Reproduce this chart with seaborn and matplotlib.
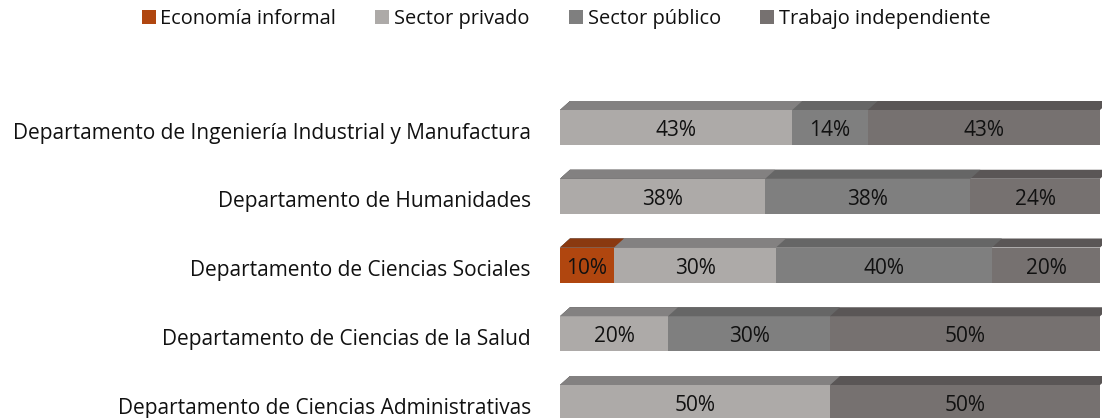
import matplotlib
matplotlib.use("Agg")
import matplotlib.pyplot as plt
import matplotlib.transforms as mtransforms
from matplotlib.patches import Polygon, Patch
import pandas as pd
import seaborn as sns

# Datos del gráfico (porcentajes por departamento)
departamentos = [
    "Departamento de Ingeniería Industrial y Manufactura",
    "Departamento de Humanidades",
    "Departamento de Ciencias Sociales",
    "Departamento de Ciencias de la Salud",
    "Departamento de Ciencias Administrativas",
]
series = ["Economía informal", "Sector privado", "Sector público", "Trabajo independiente"]
economia_informal = [0, 0, 10, 0, 0]
sector_privado = [43, 38, 30, 20, 50]
sector_publico = [14, 38, 40, 30, 0]
trabajo_independiente = [43, 24, 20, 50, 50]

colores_frente = ["#B0460F", "#ADAAA8", "#7F7F7F", "#767170"]
colores_tope = ["#8A3910", "#838181", "#666666", "#5A5656"]

df = pd.DataFrame({
    "dept": departamentos,
    series[0]: economia_informal,
    series[1]: sector_privado,
    series[2]: sector_publico,
    series[3]: trabajo_independiente,
})
acum = df[series].cumsum(axis=1)

sns.set_theme(style="white")
plt.rcParams["font.family"] = ["Open Sans", "DejaVu Sans"]

fig = plt.figure(figsize=(11.02, 4.18), dpi=100)
ax = fig.add_axes([560 / 1102, 0, 540 / 1102, 1])

DX = 10 / 540 * 100   # profundidad horizontal (unidades de %)
DY = 9 / 68.75        # profundidad vertical (unidades de categoría)

# barras apiladas: de la suma mayor a la menor
for i in range(len(series) - 1, -1, -1):
    tmp = pd.DataFrame({"dept": departamentos, "val": acum[series[i]]})
    n_before = len(ax.patches)
    sns.barplot(data=tmp, x="val", y="dept", color=colores_frente[i], saturation=1,
                width=0.51, linewidth=0, orient="h", ax=ax)
    for p in ax.patches[n_before:]:
        x0, w = p.get_x(), p.get_width()
        ytop = p.get_y()
        cara = Polygon([(x0, ytop), (x0 + w, ytop), (x0 + w + DX, ytop - DY), (x0 + DX, ytop - DY)],
                       closed=True, facecolor=colores_tope[i], edgecolor="none", clip_on=False)
        ax.add_patch(cara)

# texto un poco más abajo que el centro de la barra
bajar = mtransforms.ScaledTranslation(0, -3 / 100, fig.dpi_scale_trans)

# etiquetas de porcentaje
for j in range(len(departamentos)):
    izq = 0
    for s in series:
        v = df[s][j]
        if v > 0:
            ax.text(izq + v / 2, j, f"{v}%", ha="center", va="center", fontsize=15,
                    color="#111111", transform=ax.transData + bajar)
        izq += v

ax.set_xlim(0, 100)
ax.set_ylim(4.225, -1.855)
ax.set_xlabel("")
ax.set_ylabel("")
ax.set_xticks([])
ax.tick_params(axis="y", length=0, pad=21, labelsize=15, labelcolor="#111111")
for lbl in ax.get_yticklabels():
    lbl.set_transform(lbl.get_transform() + bajar)
sns.despine(ax=ax, left=True, bottom=True)
ax.patch.set_visible(False)

handles = [Patch(facecolor=c, edgecolor="none") for c in colores_frente]
fig.legend(handles, series, loc="center", bbox_to_anchor=(566 / 1102, 1 - 19 / 418), ncol=4,
           frameon=False, fontsize=14.4, handlelength=0.7, handleheight=0.7,
           handletextpad=0.25, columnspacing=1.95, labelcolor="#111111")

plt.savefig("out.png", dpi=100)
